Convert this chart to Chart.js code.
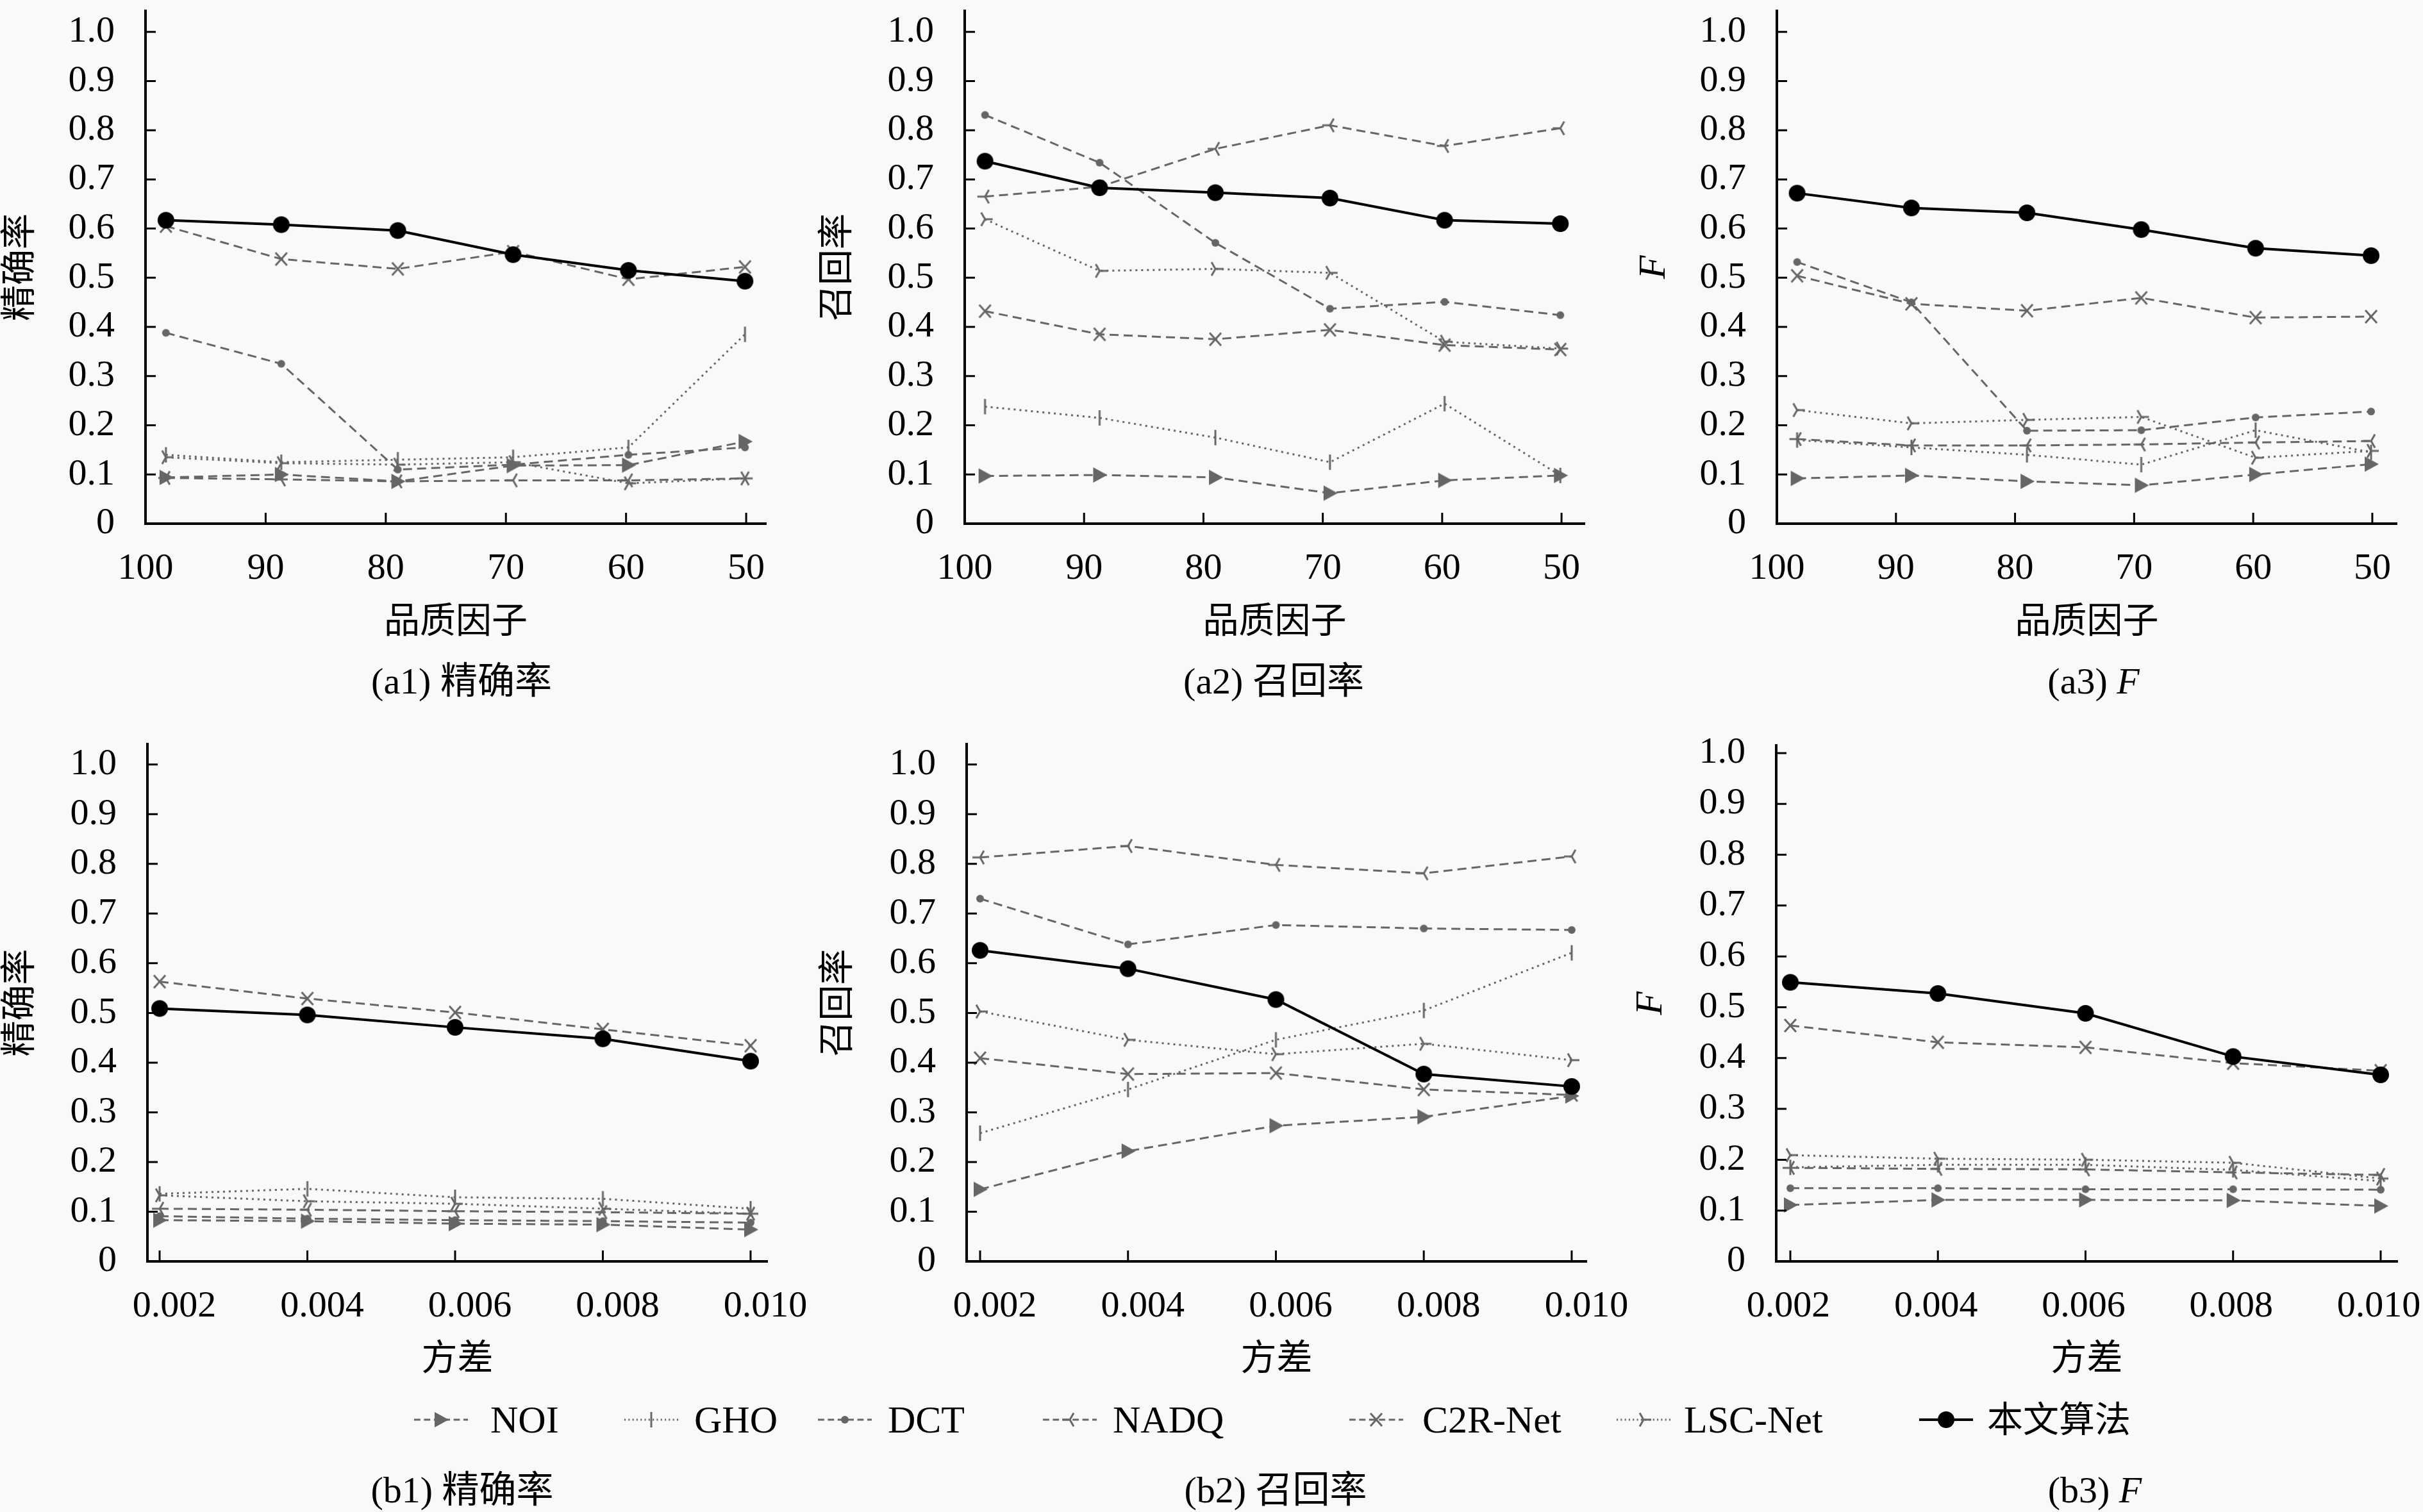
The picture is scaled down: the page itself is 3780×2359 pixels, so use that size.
<!DOCTYPE html>
<html>
<head>
<meta charset="utf-8">
<title>JPEG 压缩与噪声下各算法的精确率、召回率与 F 值</title>
<script src="https://cdn.jsdelivr.net/npm/chart.js@4.4.1/dist/chart.umd.min.js"></script>
<style>
    html, body { margin: 0; padding: 0; background: #f9f9f9; }
    #figure {
        position: relative;
        width: 3780px;
        height: 2359px;
        overflow: hidden;
        background: #f9f9f9;
        font-family: "Liberation Serif", "Noto Sans CJK SC", serif;
        color: #000;
    }
    #figure canvas { position: absolute; }
    .caption {
        position: absolute;
        font-size: 58px;
        line-height: 1;
        white-space: nowrap;
        transform: translate(-50%, -50%);
    }
    .caption i { font-family: "Liberation Serif", serif; }
    .legend-text {
        position: absolute;
        font-size: 60px;
        line-height: 1;
        white-space: nowrap;
        transform: translateY(-50%);
    }
</style>
</head>
<body>
<div id="figure"></div>

<script>
// Methods, in legend order
var methodNames = ['NOI', 'GHO', 'DCT', 'NADQ', 'C2R-Net', 'LSC-Net', '本文算法'];

// Axis tick labels
var qualityTicks = [100, 90, 80, 70, 60, 50];
var varianceTicks = [0.002, 0.004, 0.006, 0.008, 0.010];
var scoreTicks = [0, 0.1, 0.2, 0.3, 0.4, 0.5, 0.6, 0.7, 0.8, 0.9, 1.0];

// Where the points sit on the quality factor axis (they are drawn a bit off the ticks)
var qualityX = [98.3, 88.7, 79.0, 69.4, 59.8, 50.1];
var varianceX = [0.002, 0.004, 0.006, 0.008, 0.010];

// (a1) precision vs quality factor; rows follow methodNames
var precisionQuality = [
    [0.094, 0.100, 0.086, 0.118, 0.119, 0.167],
    [0.140, 0.125, 0.130, 0.135, 0.155, 0.385],
    [0.388, 0.325, 0.110, 0.120, 0.140, 0.155],
    [0.093, 0.090, 0.086, 0.088, 0.088, 0.092],
    [0.605, 0.538, 0.518, 0.553, 0.497, 0.522],
    [0.135, 0.123, 0.120, 0.125, 0.082, 0.092],
    [0.617, 0.608, 0.596, 0.547, 0.515, 0.493]
];

// (a2) recall vs quality factor
var recallQuality = [
    [0.097, 0.099, 0.094, 0.062, 0.088, 0.098],
    [0.238, 0.215, 0.175, 0.125, 0.244, 0.098],
    [0.831, 0.734, 0.571, 0.437, 0.451, 0.424],
    [0.665, 0.685, 0.762, 0.810, 0.768, 0.804],
    [0.432, 0.385, 0.375, 0.394, 0.363, 0.354],
    [0.619, 0.514, 0.518, 0.510, 0.370, 0.356],
    [0.737, 0.683, 0.673, 0.662, 0.617, 0.610]
];

// (a3) F vs quality factor
var fQuality = [
    [0.092, 0.098, 0.086, 0.078, 0.100, 0.121],
    [0.170, 0.155, 0.140, 0.120, 0.190, 0.145],
    [0.532, 0.450, 0.189, 0.190, 0.216, 0.228],
    [0.172, 0.159, 0.159, 0.161, 0.165, 0.168],
    [0.504, 0.447, 0.433, 0.459, 0.419, 0.421],
    [0.231, 0.204, 0.211, 0.217, 0.134, 0.148],
    [0.672, 0.642, 0.632, 0.598, 0.560, 0.545]
];

// (b1) precision vs noise variance
var precisionVariance = [
    [0.083, 0.081, 0.076, 0.074, 0.064],
    [0.136, 0.146, 0.129, 0.126, 0.106],
    [0.091, 0.086, 0.083, 0.081, 0.078],
    [0.106, 0.104, 0.101, 0.099, 0.096],
    [0.563, 0.529, 0.501, 0.467, 0.434],
    [0.133, 0.121, 0.116, 0.106, 0.096],
    [0.509, 0.496, 0.471, 0.448, 0.403]
];

// (b2) recall vs noise variance
var recallVariance = [
    [0.145, 0.222, 0.273, 0.291, 0.333],
    [0.258, 0.346, 0.446, 0.505, 0.621],
    [0.730, 0.638, 0.677, 0.670, 0.667],
    [0.813, 0.836, 0.798, 0.781, 0.815],
    [0.409, 0.377, 0.379, 0.346, 0.335],
    [0.503, 0.446, 0.417, 0.438, 0.405],
    [0.626, 0.589, 0.527, 0.377, 0.352]
];

// (b3) F vs noise variance
var fVariance = [
    [0.111, 0.121, 0.121, 0.120, 0.109],
    [0.185, 0.190, 0.190, 0.180, 0.158],
    [0.144, 0.144, 0.142, 0.142, 0.141],
    [0.184, 0.182, 0.181, 0.175, 0.170],
    [0.464, 0.431, 0.421, 0.390, 0.375],
    [0.209, 0.202, 0.200, 0.194, 0.163],
    [0.549, 0.527, 0.488, 0.403, 0.367]
];

var GREY = '#666666';
var BLACK = '#000000';
var DASHED = [14, 8];
var DOTTED = [3, 6];

// Line look per method (matplotlib-like markers: > | . 3 x 4 o)
var methodStyles = [
    { marker: 'triRight', dash: DASHED, color: GREY, width: 3 },
    { marker: 'vbar',     dash: DOTTED, color: GREY, width: 3 },
    { marker: 'dot',      dash: DASHED, color: GREY, width: 3 },
    { marker: 'triLeft',  dash: DASHED, color: GREY, width: 3 },
    { marker: 'cross',    dash: DASHED, color: GREY, width: 3 },
    { marker: 'triRightY',dash: DOTTED, color: GREY, width: 3 },
    { marker: 'bigDot',   dash: [],     color: BLACK, width: 4 }
];

// Small offscreen canvases used as point styles and in the legend
function makeMarker(kind, color) {
    var c = document.createElement('canvas');
    c.width = 34;
    c.height = 34;
    var g = c.getContext('2d');
    var m = 17;
    g.fillStyle = color;
    g.strokeStyle = color;
    g.lineWidth = 3;
    g.beginPath();
    if (kind === 'triRight') {
        g.moveTo(m + 12, m);
        g.lineTo(m - 10, m - 12);
        g.lineTo(m - 10, m + 12);
        g.closePath();
        g.fill();
    } else if (kind === 'vbar') {
        g.moveTo(m, m - 12);
        g.lineTo(m, m + 12);
        g.stroke();
    } else if (kind === 'dot') {
        g.arc(m, m, 6, 0, Math.PI * 2);
        g.fill();
    } else if (kind === 'triLeft') {
        g.moveTo(m, m); g.lineTo(m - 12, m);
        g.moveTo(m, m); g.lineTo(m + 6, m - 10.4);
        g.moveTo(m, m); g.lineTo(m + 6, m + 10.4);
        g.stroke();
    } else if (kind === 'triRightY') {
        g.moveTo(m, m); g.lineTo(m + 12, m);
        g.moveTo(m, m); g.lineTo(m - 6, m - 10.4);
        g.moveTo(m, m); g.lineTo(m - 6, m + 10.4);
        g.stroke();
    } else if (kind === 'cross') {
        g.moveTo(m - 9, m - 10); g.lineTo(m + 9, m + 10);
        g.moveTo(m - 9, m + 10); g.lineTo(m + 9, m - 10);
        g.stroke();
    } else if (kind === 'bigDot') {
        g.arc(m, m, 13, 0, Math.PI * 2);
        g.fill();
    }
    return c;
}

var markerImages = methodStyles.map(function(st) {
    return makeMarker(st.marker, st.color);
});

// Tick marks pointing into the plot, as in the original figure
var inwardTicks = {
    id: 'inwardTicks',
    afterDraw: function(chart) {
        var ctx = chart.ctx;
        var area = chart.chartArea;
        var xs = chart.scales.x;
        var ys = chart.scales.y;
        ctx.save();
        ctx.strokeStyle = '#000';
        ctx.lineWidth = 3;
        ctx.beginPath();
        xs.ticks.forEach(function(t) {
            var px = xs.getPixelForValue(t.value);
            ctx.moveTo(px, area.bottom);
            ctx.lineTo(px, area.bottom - 17);
        });
        ys.ticks.forEach(function(t) {
            var py = ys.getPixelForValue(t.value);
            ctx.moveTo(area.left, py);
            ctx.lineTo(area.left + 16, py);
        });
        ctx.stroke();
        ctx.restore();
    }
};

var SERIF = '"Liberation Serif", "Noto Sans CJK SC", serif';

// Panel placement on the page (pixels of the 3780x2359 figure)
var panels = [
    { name: 'a1', xs: qualityX, rows: precisionQuality, xTicks: qualityTicks, xTitle: '品质因子', yTitle: '精确率',
      left: 0, top: 0, width: 1330, height: 1010, axisX: 227, areaTop: 10, areaBottom: 817, areaRight: 1195,
      xMin: 48.35, xMax: 100, yMax: 1.0426, reverse: true, labelOffset: 0 },
    { name: 'a2', xs: qualityX, rows: recallQuality, xTicks: qualityTicks, xTitle: '品质因子', yTitle: '召回率',
      left: 1275, top: 0, width: 1330, height: 1010, axisX: 1505, areaTop: 10, areaBottom: 817, areaRight: 2472,
      xMin: 48.07, xMax: 100, yMax: 1.0426, reverse: true, labelOffset: 0 },
    { name: 'a3', xs: qualityX, rows: fQuality, xTicks: qualityTicks, xTitle: '品质因子', yTitle: 'F',
      left: 2545, top: 0, width: 1235, height: 1010, axisX: 2772, areaTop: 10, areaBottom: 817, areaRight: 3739,
      xMin: 47.95, xMax: 100, yMax: 1.0426, reverse: true, labelOffset: 0 },
    { name: 'b1', xs: varianceX, rows: precisionVariance, xTicks: varianceTicks, xTitle: '方差', yTitle: '精确率',
      left: 0, top: 1130, width: 1330, height: 1030, axisX: 230, areaTop: 1161, areaBottom: 1968, areaRight: 1197,
      xMin: 0.001835, xMax: 0.010226, yMax: 1.041, reverse: false, labelOffset: 23 },
    { name: 'b2', xs: varianceX, rows: recallVariance, xTicks: varianceTicks, xTitle: '方差', yTitle: '召回率',
      left: 1276, top: 1130, width: 1330, height: 1030, axisX: 1508, areaTop: 1161, areaBottom: 1968, areaRight: 2475,
      xMin: 0.001818, xMax: 0.0102, yMax: 1.041, reverse: false, labelOffset: 23 },
    { name: 'b3', xs: varianceX, rows: fVariance, xTicks: varianceTicks, xTitle: '方差', yTitle: 'F',
      left: 2540, top: 1130, width: 1240, height: 1030, axisX: 2771, areaTop: 1163, areaBottom: 1968, areaRight: 3740,
      xMin: 0.001809, xMax: 0.010226, yMax: 1.015, reverse: false, labelOffset: -3 }
];

var figure = document.getElementById('figure');

function buildDatasets(xs, rows) {
    return methodNames.map(function(name, i) {
        var st = methodStyles[i];
        return {
            label: name,
            data: xs.map(function(x, j) { return { x: x, y: rows[i][j] }; }),
            borderColor: st.color,
            backgroundColor: st.color,
            borderWidth: st.width,
            borderDash: st.dash,
            pointStyle: markerImages[i],
            pointRadius: 13,
            pointHoverRadius: 13,
            tension: 0,
            fill: false,
            order: i === 6 ? 0 : 1
        };
    });
}

panels.forEach(function(p) {
    var canvas = document.createElement('canvas');
    canvas.width = p.width;
    canvas.height = p.height;
    canvas.style.left = p.left + 'px';
    canvas.style.top = p.top + 'px';
    canvas.style.width = p.width + 'px';
    canvas.style.height = p.height + 'px';
    figure.appendChild(canvas);

    var yWidth = p.axisX - p.left;
    var xHeight = p.top + p.height - p.areaBottom;
    var italicF = p.yTitle === 'F';

    new Chart(canvas.getContext('2d'), {
        type: 'line',
        data: { datasets: buildDatasets(p.xs, p.rows) },
        options: {
            responsive: false,
            animation: false,
            devicePixelRatio: 1,
            layout: { padding: { top: p.areaTop - p.top, right: p.left + p.width - p.areaRight, bottom: 0, left: 0 } },
            plugins: { legend: { display: false }, tooltip: { enabled: false }, title: { display: false } },
            scales: {
                x: {
                    type: 'linear',
                    min: p.xMin,
                    max: p.xMax,
                    reverse: p.reverse,
                    grid: { display: false, drawTicks: false },
                    border: { display: true, color: '#000', width: 4 },
                    afterBuildTicks: function(axis) {
                        axis.ticks = p.xTicks.map(function(v) { return { value: v }; });
                    },
                    afterFit: function(scale) {
                        scale.height = xHeight;
                        scale.paddingLeft = 0;
                        scale.paddingRight = 0;
                    },
                    ticks: {
                        autoSkip: false,
                        maxRotation: 0,
                        padding: 36,
                        labelOffset: p.labelOffset,
                        color: '#000',
                        font: { family: SERIF, size: 58, lineHeight: 1.2 },
                        callback: function(v) { return p.reverse ? String(v) : v.toFixed(3); }
                    },
                    title: {
                        display: true,
                        text: p.xTitle,
                        color: '#000',
                        padding: { top: 0, bottom: 4 },
                        font: { family: SERIF, size: 56, lineHeight: 1.2 }
                    }
                },
                y: {
                    type: 'linear',
                    min: 0,
                    max: p.yMax,
                    grid: { display: false, drawTicks: false },
                    border: { display: true, color: '#000', width: 4 },
                    afterBuildTicks: function(axis) {
                        axis.ticks = scoreTicks.map(function(v) { return { value: v }; });
                    },
                    afterFit: function(scale) {
                        scale.width = yWidth;
                        scale.paddingTop = 0;
                        scale.paddingBottom = 0;
                    },
                    ticks: {
                        autoSkip: false,
                        padding: 48,
                        color: '#000',
                        font: { family: SERIF, size: 58, lineHeight: 1.2 },
                        callback: function(v) { return v === 0 ? '0' : v.toFixed(1); }
                    },
                    title: {
                        display: true,
                        text: p.yTitle,
                        color: '#000',
                        padding: 0,
                        font: { family: SERIF, size: italicF ? 60 : 56, style: italicF ? 'italic' : 'normal', lineHeight: 1.2 }
                    }
                }
            }
        },
        plugins: [inwardTicks]
    });
});

// Sub-figure captions
var captions = [
    { html: '(a1) 精确率', x: 720, y: 1063 },
    { html: '(a2) 召回率', x: 1987, y: 1063 },
    { html: '(a3) <i>F</i>', x: 3266, y: 1063 },
    { html: '(b1) 精确率', x: 721, y: 2325 },
    { html: '(b2) 召回率', x: 1990, y: 2325 },
    { html: '(b3) <i>F</i>', x: 3268, y: 2325 }
];
captions.forEach(function(c) {
    var d = document.createElement('div');
    d.className = 'caption';
    d.innerHTML = c.html;
    d.style.left = c.x + 'px';
    d.style.top = c.y + 'px';
    figure.appendChild(d);
});

// Shared legend across the bottom row
var legendY = 2215;
var legendSampleLeft = [646, 974, 1276, 1627, 2105, 2522, 2994];
var legendTextLeft = [765, 1083, 1385, 1736, 2219, 2627, 3100];

methodNames.forEach(function(name, i) {
    var st = methodStyles[i];
    var sample = document.createElement('canvas');
    sample.width = 84;
    sample.height = 40;
    sample.style.left = legendSampleLeft[i] + 'px';
    sample.style.top = (legendY - 20) + 'px';
    var g = sample.getContext('2d');
    g.strokeStyle = st.color;
    g.lineWidth = st.width;
    g.setLineDash(st.dash.length ? [st.dash[0] * 0.7, st.dash[1] * 0.7] : []);
    g.beginPath();
    g.moveTo(0, 20);
    g.lineTo(84, 20);
    g.stroke();
    g.drawImage(markerImages[i], 42 - 17, 20 - 17);
    figure.appendChild(sample);

    var t = document.createElement('div');
    t.className = 'legend-text';
    t.textContent = name;
    t.style.left = legendTextLeft[i] + 'px';
    t.style.top = legendY + 'px';
    if (i === 6) t.style.fontSize = '56px';
    figure.appendChild(t);
});
</script>
</body>
</html>
